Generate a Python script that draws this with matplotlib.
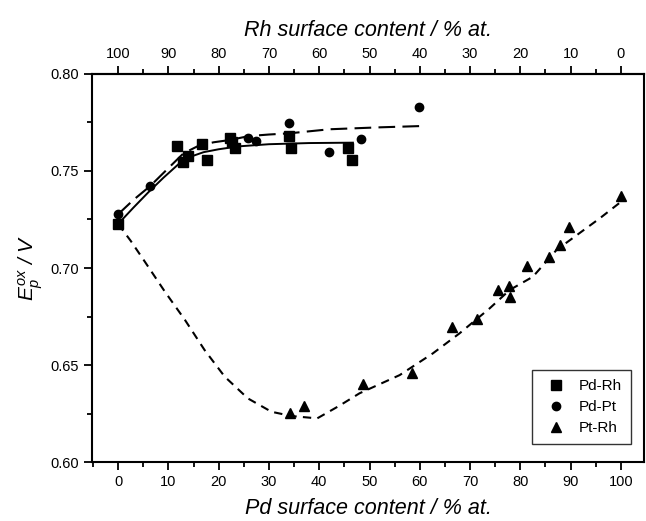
import matplotlib
matplotlib.use('Agg')
import matplotlib.pyplot as plt
from matplotlib.ticker import MultipleLocator, FixedLocator

plt.rcParams['font.family'] = ['Liberation Sans', 'DejaVu Sans']
plt.rcParams['mathtext.fontset'] = 'custom'
plt.rcParams['mathtext.it'] = 'Liberation Sans:italic'
plt.rcParams['mathtext.rm'] = 'Liberation Sans'

# Pd-Rh (squares)
pdrh_x = [0, 11.8, 13.0, 13.9, 16.7, 17.6, 22.3, 22.6, 23.2, 33.9, 34.4, 45.7, 46.5]
pdrh_y = [0.7227, 0.7630, 0.7548, 0.7579, 0.7639, 0.7557, 0.7669, 0.7648, 0.7617,
          0.7680, 0.7617, 0.7617, 0.7555]
# Pd-Pt (circles)
pdpt_x = [0, 6.4, 25.8, 27.4, 33.9, 41.9, 48.4, 59.8]
pdpt_y = [0.7277, 0.7423, 0.7672, 0.7656, 0.7749, 0.7596, 0.7667, 0.7828]
# Pt-Rh (triangles)
ptrh_x = [34.1, 37.0, 48.8, 58.4, 66.5, 71.3, 75.5, 77.7, 78.0, 81.4, 85.8, 87.8, 89.7, 100.1]
ptrh_y = [0.6251, 0.6289, 0.6400, 0.6460, 0.6697, 0.6739, 0.6887, 0.6907, 0.6852,
          0.7010, 0.7058, 0.7119, 0.7213, 0.7371]

# fitted curves
fit_pdrh_x = [0, 3, 6, 9, 12, 14, 17, 20, 24, 30, 38, 46.7]
fit_pdrh_y = [0.7227, 0.7310, 0.7390, 0.7465, 0.7535, 0.7570, 0.7597, 0.7612,
              0.7627, 0.7638, 0.7644, 0.7646]
fit_pdpt_x = [0, 3, 6.4, 10, 13, 16, 19, 22.3, 26, 30, 34, 42, 52, 60.7]
fit_pdpt_y = [0.7277, 0.7350, 0.7423, 0.7515, 0.7591, 0.7630, 0.7648, 0.7660,
              0.7680, 0.7688, 0.7694, 0.7715, 0.7725, 0.7732]
fit_ptrh_x = [0, 2.5, 5.3, 9.3, 13.3, 17.2, 21.2, 25.8, 30.5, 34.5, 39.6, 44, 48,
              56, 62.6, 67.9, 73.9, 77.9, 82.5, 87.2, 92, 95.8, 100.5]
fit_ptrh_y = [0.7227, 0.7140, 0.7033, 0.6878, 0.6732, 0.6577, 0.6440, 0.6328,
              0.6259, 0.6237, 0.6225, 0.6290, 0.6354, 0.6448, 0.6560, 0.6663,
              0.6792, 0.6887, 0.6955, 0.7093, 0.7184, 0.7256, 0.7351]

top_ticks = [0, 10, 20, 30, 40, 50, 60, 70, 80, 90, 100]

fig = plt.figure(figsize=(6.46, 5.21), dpi=100)
ax = fig.add_axes([0.1424, 0.1132, 0.8545, 0.7448])

ax.plot(fit_pdrh_x, fit_pdrh_y, color='black', lw=1.4)
ax.plot(fit_pdpt_x, fit_pdpt_y, color='black', lw=1.5, dashes=(8, 3.5))
ax.plot(fit_ptrh_x, fit_ptrh_y, color='black', lw=1.5, dashes=(4, 3))

ax.plot(pdrh_x, pdrh_y, 's', color='black', ms=6.5, ls='none', label='Pd-Rh')
ax.plot(pdpt_x, pdpt_y, 'o', color='black', ms=6, ls='none', label='Pd-Pt')
ax.plot(ptrh_x, ptrh_y, '^', color='black', ms=7.5, ls='none', label='Pt-Rh')

ax.set_xlim(-5.2, 104.6)
ax.set_ylim(0.60, 0.80)
ax.xaxis.set_major_locator(FixedLocator(top_ticks))
ax.xaxis.set_minor_locator(FixedLocator([t + 5 for t in top_ticks[:-1]] + [-5]))
ax.yaxis.set_major_locator(MultipleLocator(0.05))
ax.yaxis.set_minor_locator(MultipleLocator(0.025))
ax.yaxis.set_major_formatter(plt.FormatStrFormatter('%.2f'))

for s in ax.spines.values():
    s.set_linewidth(1.5)
ax.tick_params(which='major', direction='out', length=6, width=1.3, labelsize=10.5)
ax.tick_params(which='minor', direction='out', length=3.5, width=1.3)

ax.set_xlabel('Pd surface content / % at.', fontsize=15.5, style='italic', labelpad=6)
ax.set_ylabel(r'$E_p^{ox}$ / V', fontsize=15, style='italic', labelpad=4)

top = ax.secondary_xaxis('top', functions=(lambda x: 100 - x, lambda x: 100 - x))
top.set_xticks(top_ticks)
top.xaxis.set_minor_locator(FixedLocator([t + 5 for t in top_ticks[:-1]]))
top.tick_params(which='major', direction='out', length=6, width=1.3, labelsize=10.5)
top.tick_params(which='minor', direction='out', length=3.5, width=1.3)
top.spines['top'].set_linewidth(1.5)
top.set_xlabel('Rh surface content / % at.', fontsize=15.5, style='italic', labelpad=8)

leg = ax.legend(loc='lower right', fontsize=11, frameon=True, fancybox=False,
                edgecolor='black', handletextpad=0.5, borderpad=0.6,
                labelspacing=0.45, bbox_to_anchor=(0.991, 0.026))
leg.get_frame().set_linewidth(1.0)

fig.savefig('out.png', dpi=100)
